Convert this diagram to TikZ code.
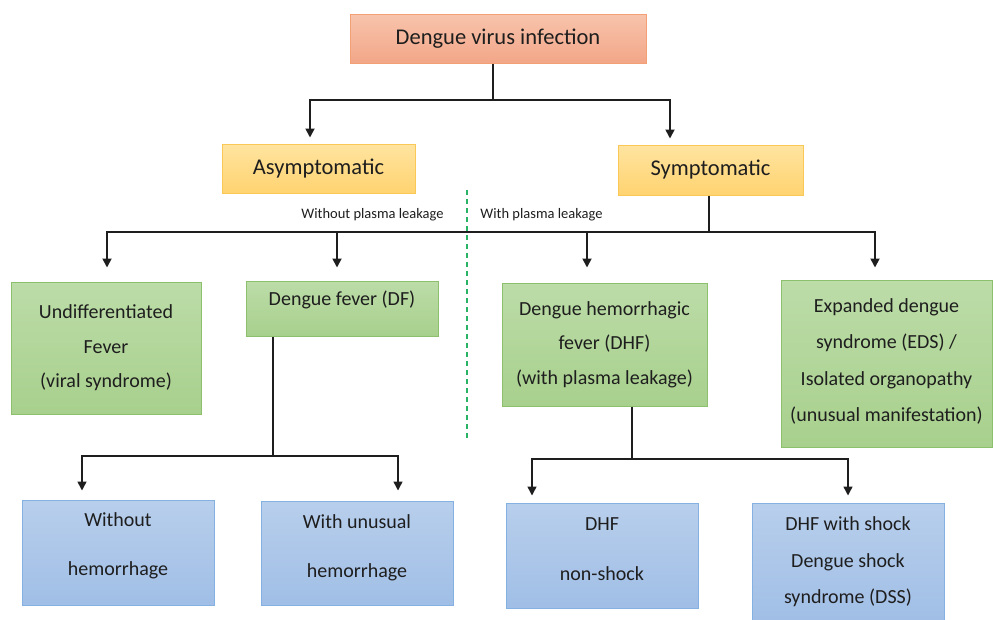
\documentclass[tikz,border=0pt]{standalone}
\usepackage{fontspec}
\setmainfont{Carlito}
\usetikzlibrary{arrows.meta}
\definecolor{topT}{RGB}{247,196,172}
\definecolor{topBo}{RGB}{243,166,136}
\definecolor{topD}{RGB}{244,160,118}
\definecolor{yelT}{RGB}{255,228,160}
\definecolor{yelBo}{RGB}{255,211,112}
\definecolor{yelD}{RGB}{249,200,86}
\definecolor{grnT}{RGB}{188,220,168}
\definecolor{grnBo}{RGB}{168,208,141}
\definecolor{grnD}{RGB}{140,192,108}
\definecolor{bluT}{RGB}{184,207,236}
\definecolor{bluBo}{RGB}{160,190,230}
\definecolor{bluD}{RGB}{132,176,226}
\definecolor{linec}{RGB}{30,30,30}
\definecolor{txtc}{RGB}{30,30,30}
\definecolor{dashc}{RGB}{40,180,100}
\begin{document}
\begin{tikzpicture}[x=1pt,y=-1pt,
  box/.style={line width=1pt, inner sep=0pt},
  topbox/.style={box, draw=topD, top color=topT, bottom color=topBo},
  yelbox/.style={box, draw=yelD, top color=yelT, bottom color=yelBo},
  grnbox/.style={box, draw=grnD, top color=grnT, bottom color=grnBo},
  blubox/.style={box, draw=bluD, top color=bluT, bottom color=bluBo},
  head/.style={align=center, text=txtc, font=\fontsize{22.5}{27}\selectfont},
  txt/.style={align=center, text=txtc, inner sep=0pt},
  small/.style={text=txtc, inner sep=0pt, font=\fontsize{14.5}{17}\selectfont},
  ln/.style={draw=linec, line width=1.8pt},
  arr/.style={ln, -{Triangle[width=9pt,length=9pt]}}
]
\useasboundingbox (0,0) rectangle (993,619);

% boxes
\node[topbox, minimum width=296pt, minimum height=49pt] (top) at (498,38.5) {};
\node[yelbox, minimum width=193pt, minimum height=49pt] (asym) at (318.5,168.5) {};
\node[yelbox, minimum width=185pt, minimum height=50pt] (sym) at (710.5,170) {};
\node[grnbox, minimum width=190pt, minimum height=132pt] (udf) at (106,348) {};
\node[grnbox, minimum width=192pt, minimum height=55pt] (df) at (342,308.5) {};
\node[grnbox, minimum width=205pt, minimum height=123pt] (dhf) at (604.5,344.5) {};
\node[grnbox, minimum width=211pt, minimum height=167pt] (eds) at (886.5,363.5) {};
\node[blubox, minimum width=192pt, minimum height=105pt] (woh) at (118,552.5) {};
\node[blubox, minimum width=192pt, minimum height=104pt] (wuh) at (357,553) {};
\node[blubox, minimum width=192pt, minimum height=105pt] (nsh) at (602,555.5) {};
\node[blubox, minimum width=192pt, minimum height=120pt] (shk) at (848,563) {};

% texts
\node[head] (t-top) at (top.center) {Dengue virus infection};
\node[head] (t-asym) at (asym.center) {Asymptomatic};
\node[head] (t-sym) at (sym.center) {Symptomatic};
\node[txt, font=\fontsize{20}{34.5}\selectfont] (t-udf) at (udf.center) {Undifferentiated\\Fever\\(viral syndrome)};
\node[txt, font=\fontsize{20}{24}\selectfont] (t-df) at ([yshift=8.5pt]df.center) {Dengue fever (DF)};
\node[txt, font=\fontsize{20}{34.5}\selectfont] (t-dhf) at (dhf.center) {Dengue hemorrhagic\\fever (DHF)\\(with plasma leakage)};
\node[txt, font=\fontsize{20}{36.5}\selectfont] (t-eds) at ([yshift=2pt]eds.center) {Expanded dengue\\syndrome (EDS) /\\Isolated organopathy\\(unusual manifestation)};
\node[txt, font=\fontsize{20}{49}\selectfont] (t-woh) at ([yshift=7pt]woh.center) {Without\\hemorrhage};
\node[txt, font=\fontsize{20}{49}\selectfont] (t-wuh) at ([yshift=5.5pt]wuh.center) {With unusual\\hemorrhage};
\node[txt, font=\fontsize{20}{50}\selectfont] (t-nsh) at ([yshift=6.5pt]nsh.center) {DHF\\non-shock};
\node[txt, font=\fontsize{20}{36.5}\selectfont] (t-shk) at ([yshift=1pt]shk.center) {DHF with shock\\Dengue shock\\syndrome (DSS)};

\node[small] (l-without) at (372.5,215) {Without plasma leakage};
\node[small] (l-with) at (541.5,215) {With plasma leakage};

% dashed divider
\coordinate (d1) at (467,190);
\coordinate (d2) at (467,438);
\draw[dashc, line width=1.3pt, dash pattern=on 5pt off 4pt] (d1) -- (d2);

% connectors
\coordinate (j1) at (493,100);
\draw[ln] (top.south -| j1) -- (j1);
\draw[arr] (j1) -| ([xshift=-8.5pt,yshift=6pt]asym.north);
\draw[arr] (j1) -| ([xshift=-40.5pt,yshift=6pt]sym.north);

\coordinate (j2) at (709,232);
\draw[ln] (sym.south -| j2) -- (j2);
\draw[arr] (j2) -| ([xshift=1pt,yshift=14pt]udf.north);
\draw[arr] (j2) -| ([xshift=-5pt,yshift=13pt]df.north);
\draw[arr] (j2) -| ([xshift=-17.5pt,yshift=15pt]dhf.north);
\draw[arr] (j2) -| ([xshift=-11.5pt,yshift=12pt]eds.north);

\coordinate (j3) at (273,456);
\draw[ln, line width=1.5pt] (df.south -| j3) -- (j3);
\draw[arr, line width=1.5pt] (j3) -| ([xshift=-36pt,yshift=9pt]woh.north);
\draw[arr, line width=1.5pt] (j3) -| ([xshift=41pt,yshift=10pt]wuh.north);

\coordinate (j4) at (632,459);
\draw[ln, line width=1.5pt] (dhf.south -| j4) -- (j4);
\draw[arr, line width=1.5pt] (j4) -| ([xshift=-70pt,yshift=7pt]nsh.north);
\draw[arr, line width=1.5pt] (j4) -| ([yshift=7pt]shk.north);
\end{tikzpicture}
\end{document}
